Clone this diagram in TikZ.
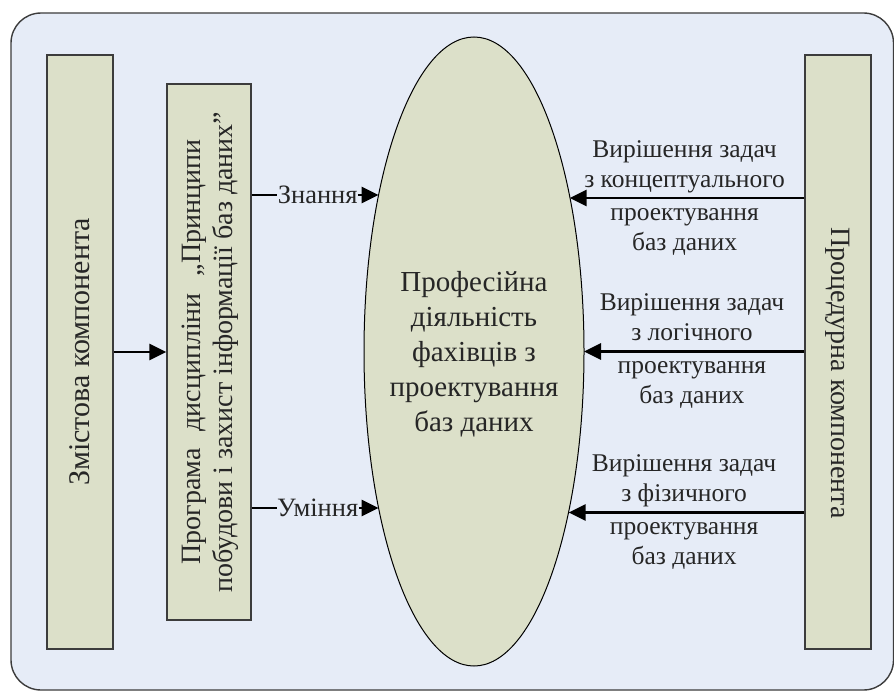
\documentclass[tikz,border=0pt]{standalone}
\usepackage{fontspec}
\setmainfont{Liberation Serif}
\usetikzlibrary{shapes.geometric,arrows.meta,calc}
\definecolor{bgblue}{HTML}{E6ECF7}
\definecolor{boxfill}{HTML}{DCE0C9}
\definecolor{frameline}{HTML}{3C3C3C}
\tikzset{
  vbox/.style={draw=frameline, line width=1.4pt, fill=boxfill, inner sep=0pt},
  conn/.style={line width=2.8pt, -{Triangle[length=17pt,width=16pt]}},
  lbl/.style={font=\fontsize{25.5}{30}\selectfont, align=center, text=black!85},
  wlbl/.style={font=\fontsize{26.5}{28}\selectfont, fill=bgblue, inner sep=0.5pt, text=black!85},
}
\begin{document}
\begin{tikzpicture}[x=1pt,y=-1pt]
\useasboundingbox (0,0) rectangle (894,693);
% frame
\draw[frameline, line width=1.4pt, fill=bgblue, rounded corners=30pt] (11,13) rectangle (893.5,690);
% left box
\node[vbox, minimum width=66pt, minimum height=594pt] (lb) at (80,352) {};
\node[rotate=90, font=\fontsize{30}{34}\selectfont, text=black!85] (lbt) at (lb.center) {Змістова компонента};
% program box
\node[vbox, minimum width=84pt, minimum height=536pt] (pb) at (209,352) {};
\node[rotate=90, font=\fontsize{28}{32}\selectfont, align=center, text=black!85] (pbt) at ($(pb.center)+(1,0)$) {Програма\hspace{17pt}дисципліни\hspace{17pt}„Принципи\\побудови і захист інформації баз даних”};
% right box
\node[vbox, minimum width=66pt, minimum height=594pt] (rb) at (838,352) {};
\node[rotate=-90, font=\fontsize{28}{32}\selectfont, text=black!85] (rbt) at ($(rb.center)+(0,21)$) {Процедурна компонента};
% ellipse
\node[ellipse, draw=black, line width=1pt, fill=boxfill, minimum width=220pt, minimum height=629pt, inner sep=0pt] (E) at (474,351.5) {};
\node[align=center, font=\fontsize{29}{35}\selectfont, text=black!85] (Et) at ($(E.center)+(0,3)$) {Професійна\\діяльність\\фахівців з\\проектування\\баз даних};
% border points on ellipse
\coordinate (eZ) at ($(E.center)+(-95.4,-156.5)$);
\coordinate (eU) at ($(E.center)+(-95.4,156.5)$);
\coordinate (e1) at ($(E.center)+(95.6,-153.5)$);
\coordinate (e2) at ($(E.center)+(110,0)$);
\coordinate (e3) at ($(E.center)+(94.6,161)$);
% connectors
\draw[conn] (lb.east) -- (pb.west);
\draw[conn] (pb.east |- eZ) -- node[wlbl, pos=0.52] {Знання} (eZ);
\draw[conn] (pb.east |- eU) -- node[wlbl, pos=0.52] {Уміння} (eU);
\draw[conn] (rb.west |- e1) -- node[lbl, pos=0.51] {Вирішення задач\\з концептуального\\[3pt]проектування\\баз даних} (e1);
\draw[conn] (rb.west |- e2) -- node[lbl, pos=0.51] {Вирішення задач\\з логічного\\[3pt]проектування\\баз даних} (e2);
\draw[conn] (rb.west |- e3) -- node[lbl, pos=0.51] {Вирішення задач\\з фізичного\\[3pt]проектування\\баз даних} (e3);
\end{tikzpicture}
\end{document}
